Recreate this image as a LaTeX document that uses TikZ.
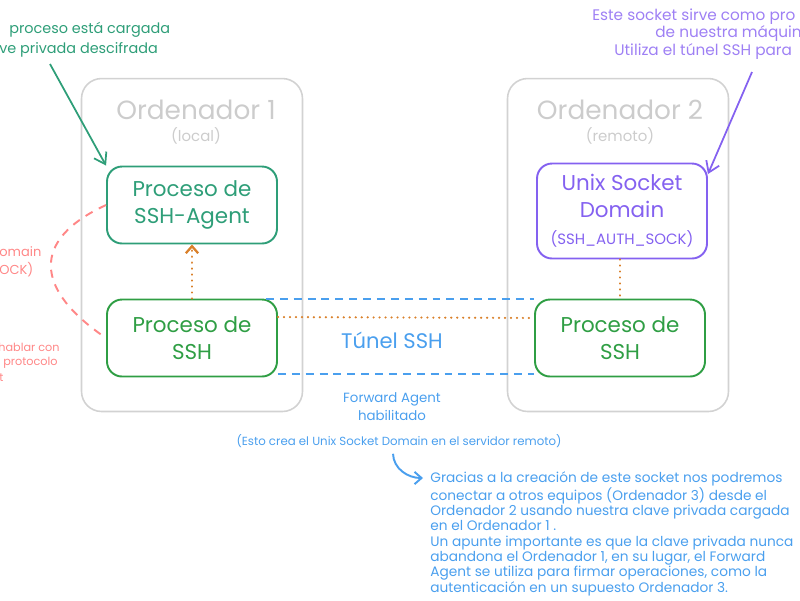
\documentclass[tikz,border=0pt]{standalone}
\usepackage{fontspec}
\setmainfont{Poppins}
\usetikzlibrary{arrows.meta}

\definecolor{grisA}{HTML}{D2D2D2}
\definecolor{grisB}{HTML}{CCCCCC}
\definecolor{verdeA}{HTML}{2E9E78}
\definecolor{verdeB}{HTML}{2F9E44}
\definecolor{morado}{HTML}{8461F0}
\definecolor{moradoT}{HTML}{9E80F4}
\definecolor{azul}{HTML}{4A9FEE}
\definecolor{naranja}{HTML}{D9802A}
\definecolor{rojo}{HTML}{FF8787}

\tikzset{ordbox/.style={draw=grisA,line width=0.9pt,rounded corners=0.4cm,
    minimum width=4.42cm,minimum height=6.66cm}}
\tikzset{ordtit/.style={text=grisB,font=\fontsize{15}{18}\selectfont}}
\tikzset{ordsub/.style={text=grisB,font=\fontsize{8.5}{10}\selectfont}}
\tikzset{pboxA/.style={draw=verdeA,text=verdeA,line width=1.1pt,rounded corners=0.3cm,
    minimum width=3.4cm,minimum height=1.54cm,align=center,
    font=\fontsize{12.2}{15.4}\selectfont}}
\tikzset{pboxB/.style={pboxA,draw=verdeB,text=verdeB}}
\tikzset{pboxC/.style={pboxA,draw=morado,text=morado,minimum height=1.9cm}}
\tikzset{clineA/.style={draw=naranja,line width=1.3pt,line cap=round,
    dash pattern=on 0.1pt off 3.3pt}}
\tikzset{clineB/.style={draw=azul,line width=1.1pt,dash pattern=on 4.5pt off 3.4pt}}
\tikzset{clineC/.style={draw=rojo,line width=1.1pt,dash pattern=on 4.6pt off 4pt}}
\tikzset{flechaA/.style={draw=verdeA,line width=1pt,-{Straight Barb[length=6pt,width=8pt]}}}
\tikzset{flechaB/.style={draw=morado,line width=1pt,-{Straight Barb[length=6pt,width=8pt]}}}
\tikzset{flechaC/.style={draw=azul,line width=1.1pt,-{Straight Barb[length=4pt,width=7pt]}}}
\tikzset{notaA/.style={text=verdeA,inner sep=0pt,font=\fontsize{8.2}{11}\selectfont}}
\tikzset{notaB/.style={text=moradoT,inner sep=0pt,font=\fontsize{8.7}{11}\selectfont}}
\tikzset{notaC/.style={text=rojo,inner sep=0pt,font=\fontsize{7.4}{10}\selectfont}}
\tikzset{notaD/.style={text=azul,align=center}}

\begin{document}
\begin{tikzpicture}[x=0.02cm,y=-0.02cm]

\pgfmathsetmacro{\xmax}{800}
\pgfmathsetmacro{\ymax}{600}

\pgfmathsetmacro{\xa}{192}
\pgfmathsetmacro{\xb}{620}

\pgfmathsetmacro{\ya}{205}
\pgfmathsetmacro{\yb}{338}

\useasboundingbox (0,0) rectangle (\xmax,\ymax);

\begin{scope}\clip(0,0)rectangle(\xmax,\ymax);

    %   ordenadores
    \node[ordbox] (ord1) at (\xa,245) {};
    \node[ordtit] (tord1) at (196,110) {Ordenador 1};
    \node[ordsub] (sord1) at (196,136) {(local)};

    \node[ordbox] (ord2) at (618,245) {};
    \node[ordtit] (tord2) at (620,110) {Ordenador 2};
    \node[ordsub] (sord2) at (620,136) {(remoto)};

    %   procesos
    \node[pboxA] (agent) at (\xa,\ya) {Proceso de\\SSH-Agent};
    \node[pboxB] (ssh1) at (\xa,\yb) {Proceso de\\SSH};
    \node[pboxC] (usd) at (622,211)
        {Unix Socket\\Domain\\{\fontsize{8.5}{15.4}\selectfont(SSH\_AUTH\_SOCK)}};
    \node[pboxB] (ssh2) at (\xb,\yb) {Proceso de\\SSH};

    %   túnel
    \draw[clineB] ([xshift=-0.24cm]ssh1.north east) -- (ssh2.north west);
    \draw[clineB] ([yshift=0.07cm]ssh1.south east) -- ([yshift=0.07cm]ssh2.south west);
    \draw[clineA] ([yshift=0.42cm]ssh1.east) -- ([yshift=0.4cm]ssh2.west);
    \node[notaD,font=\fontsize{12}{14}\selectfont] (tunel) at (392,340) {Túnel SSH};

    %   conexiones locales y remotas
    \draw[clineA,-{Straight Barb[length=4pt,width=7pt]}] (ssh1.north) -- (agent.south);
    \draw[clineA] (usd.south -| ssh2.north) -- (ssh2.north);
    \draw[clineC] (agent.west)..controls(30,240) and (35,290)..(ssh1.west);

    %   notas superiores
    \node[notaA,anchor=west] (nga) at (9,30) {proceso está cargada};
    \node[notaA,anchor=west] (ngb) at (-1,50) {ve privada descifrada};
    \coordinate (ga0) at (50,64);
    \draw[flechaA] (ga0) -- (agent.north west);

    \node[notaB,anchor=west] (npa) at (592,17) {Este socket sirve como pro};
    \node[notaB,anchor=west] (npb) at (655,34) {de nuestra máquin};
    \node[notaB,anchor=west] (npc) at (614,52) {Utiliza el túnel SSH para};
    \coordinate (pa0) at (752,72);
    \draw[flechaB] (pa0) -- ([yshift=-0.23cm]usd.north east);

    %   notas izquierdas
    \node[notaC,anchor=west] (nra) at (-1,252) {omain};
    \node[notaC,anchor=west] (nrb) at (-1,270) {OCK)};
    \node[notaC,anchor=west,font=\fontsize{6.4}{8}\selectfont] (nrc) at (-2,347) {hablar con};
    \node[notaC,anchor=west,font=\fontsize{6.4}{8}\selectfont] (nrd) at (3,363) {protocolo};
    \node[notaC,anchor=west,font=\fontsize{6.4}{8}\selectfont] (nre) at (-1,378) {t};

    %   notas inferiores
    \node[notaD,font=\fontsize{7.6}{10.2}\selectfont] (fwd) at (392,407)
        {Forward Agent\\habilitado};
    \node[notaD,font=\fontsize{6.7}{8}\selectfont] (esto) at (399,441)
        {(Esto crea el Unix Socket Domain en el servidor remoto)};
    \node[notaD,align=left,anchor=north west,inner sep=0pt,
        font=\fontsize{7.8}{8.7}\selectfont] (nota) at (430,471)
        {Gracias a la creación de este socket nos podremos\\
         conectar a otros equipos (Ordenador 3) desde el\\
         Ordenador 2 usando nuestra clave privada cargada\\
         en el Ordenador 1 .\\
         Un apunte importante es que la clave privada nunca\\
         abandona el Ordenador 1, en su lugar, el Forward\\
         Agent se utiliza para firmar operaciones, como la\\
         autenticación en un supuesto Ordenador 3.};
    \draw[flechaC] ([xshift=-0.12cm]esto.south)
        to[out=-88,in=180] ([xshift=-0.14cm,yshift=-0.14cm]nota.north west);

\end{scope}

\end{tikzpicture}
\end{document}
